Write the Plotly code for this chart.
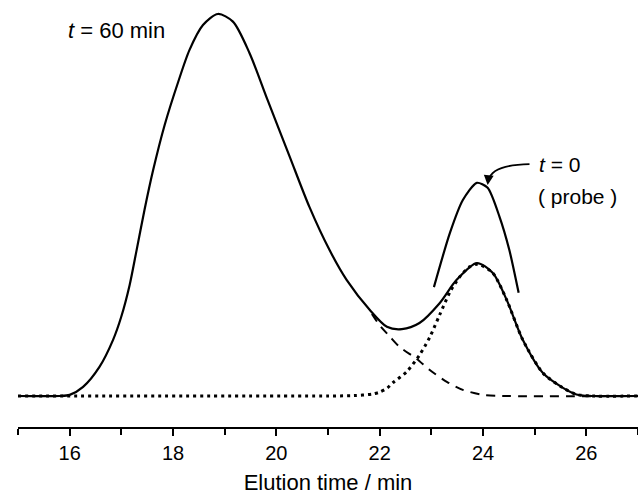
import plotly.graph_objects as go

# ---- data (elution time in min, normalised detector signal) ----
t_total = [15.0, 15.8, 16.0, 16.26, 16.58, 16.84, 17.00, 17.16, 17.29, 17.45, 17.61, 17.84,
           18.10, 18.32, 18.58, 18.87, 19.16, 19.48, 19.83, 20.26, 20.64, 21.03, 21.36,
           21.81, 22.14, 22.43, 22.77, 23.16, 23.49, 23.88, 24.19, 24.46, 24.77, 25.16,
           25.54, 25.81, 26.1, 27.0]
y_total = [0.0, 0.0, 0.003, 0.024, 0.077, 0.147, 0.208, 0.290, 0.378, 0.488, 0.588, 0.710,
           0.822, 0.906, 0.971, 1.0, 0.980, 0.898, 0.775, 0.626, 0.495, 0.382, 0.304,
           0.225, 0.181, 0.175, 0.191, 0.243, 0.304, 0.348, 0.322, 0.251, 0.147, 0.060,
           0.022, 0.004, 0.0, 0.0]

t_fit1 = [21.85, 22.0, 22.2, 22.39, 22.72, 22.97, 23.30, 23.61, 24.0, 24.38, 27.0]
y_fit1 = [0.215, 0.185, 0.155, 0.128, 0.097, 0.068, 0.037, 0.016, 0.003, 0.0, 0.0]

t_fit2 = [15.0, 21.0, 21.5, 21.86, 22.0, 22.15, 22.25, 22.52, 22.77, 22.97, 23.16, 23.36,
          23.55, 23.74, 23.90, 24.19, 24.46, 24.77, 25.16, 25.54, 25.81, 26.1, 27.0]
y_fit2 = [0.0, 0.0, 0.001, 0.005, 0.010, 0.021, 0.034, 0.063, 0.107, 0.154, 0.212, 0.272,
          0.312, 0.338, 0.345, 0.322, 0.251, 0.147, 0.060, 0.022, 0.004, 0.0, 0.0]

t_probe = [23.05, 23.36, 23.61, 23.88, 24.09, 24.32, 24.51, 24.69]
y_probe = [0.285, 0.427, 0.513, 0.558, 0.545, 0.469, 0.382, 0.270]

tick_vals = [16, 18, 20, 22, 24, 26]
tick_text = ["16", "18", "20", "22", "24", "26"]

FONT = "Liberation Sans, Arial, Helvetica, sans-serif"

fig = go.Figure()
fig.add_trace(go.Scatter(x=t_fit2, y=y_fit2, mode="lines",
                         line=dict(color="black", width=3, dash="3px,4px",
                                   shape="spline", smoothing=0.7)))
fig.add_trace(go.Scatter(x=t_fit1, y=y_fit1, mode="lines",
                         line=dict(color="black", width=2, dash="9px,7px",
                                   shape="spline", smoothing=0.7)))
fig.add_trace(go.Scatter(x=t_total, y=y_total, mode="lines",
                         line=dict(color="black", width=2.2, shape="spline", smoothing=0.8)))
fig.add_trace(go.Scatter(x=t_probe, y=y_probe, mode="lines",
                         line=dict(color="black", width=2.2, shape="spline", smoothing=0.7)))

# curved arrow from the "t = 0" label to the probe peak
fig.add_shape(type="path", xref="x", yref="y",
              path="M 24.90,0.607 Q 24.17,0.605 24.11,0.565",
              line=dict(color="black", width=1.8))
fig.add_annotation(x=24.09, y=0.552, xref="x", yref="y", text="", showarrow=True,
                   ax=1, ay=-9, arrowhead=2, arrowsize=1.1, arrowwidth=1.8,
                   arrowcolor="black")

fig.add_annotation(x=15.92, y=0.958, xref="x", yref="y", xanchor="left", yanchor="middle",
                   text="<i>t</i> = 60 min", showarrow=False,
                   font=dict(family=FONT, size=22, color="black"))
fig.add_annotation(x=25.04, y=0.605, xref="x", yref="y", xanchor="left", yanchor="middle",
                   text="<i>t</i> = 0", showarrow=False,
                   font=dict(family=FONT, size=21, color="black"))
fig.add_annotation(x=25.02, y=0.521, xref="x", yref="y", xanchor="left", yanchor="middle",
                   text="( probe )", showarrow=False,
                   font=dict(family=FONT, size=21, color="black"))

fig.update_layout(
    width=638, height=499,
    margin=dict(l=18, r=0, t=0, b=72),
    paper_bgcolor="white", plot_bgcolor="white",
    showlegend=False,
    xaxis=dict(range=[15, 27], showgrid=False, zeroline=False,
               showline=True, linecolor="black", linewidth=2,
               ticks="outside", ticklen=7, tickwidth=2, tickcolor="black",
               tickvals=tick_vals, ticktext=tick_text,
               tickfont=dict(family=FONT, size=20, color="black"),
               minor=dict(dtick=1, tick0=15, ticks="outside", ticklen=6,
                          tickwidth=2, tickcolor="black", showgrid=False),
               title=dict(text="Elution time / min", standoff=12,
                          font=dict(family=FONT, size=22, color="black"))),
    yaxis=dict(range=[-0.0812, 1.0366], visible=False, fixedrange=True),
)

fig.write_html("out.html", config={"displayModeBar": False, "staticPlot": True},
               post_script="document.body.style.margin='0';document.body.style.overflow='hidden';")
